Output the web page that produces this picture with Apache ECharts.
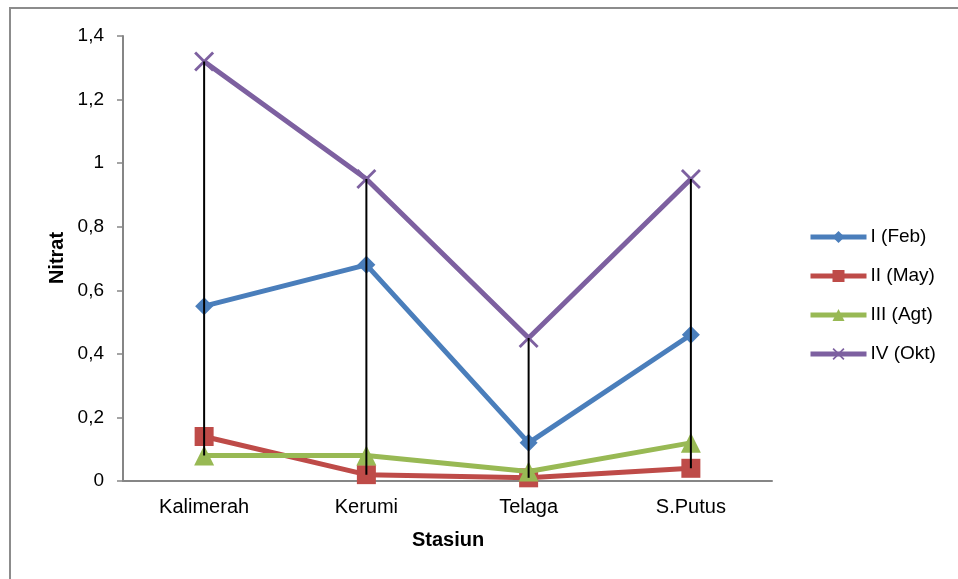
<!DOCTYPE html>
<html>
<head>
<meta charset="utf-8">
<script src="https://cdn.jsdelivr.net/npm/echarts@6/dist/echarts.min.js"></script>
<style>
  html, body { margin: 0; padding: 0; background: #fff; }
  #chart { width: 958px; height: 579px; }
</style>
</head>
<body>
<div id="chart"></div>
<script>
// Nitrate concentration per station, four sampling periods
const stations = ['Kalimerah', 'Kerumi', 'Telaga', 'S.Putus'];
const seriesNames = ['I (Feb)', 'II (May)', 'III (Agt)', 'IV (Okt)'];
const febValues = [0.55, 0.68, 0.12, 0.46];
const mayValues = [0.14, 0.02, 0.01, 0.04];
const agtValues = [0.08, 0.08, 0.03, 0.12];
const oktValues = [1.32, 0.95, 0.45, 0.95];
const yTicks = [0, 0.2, 0.4, 0.6, 0.8, 1, 1.2, 1.4];

const allSeries = [febValues, mayValues, agtValues, oktValues];
const colors = ['#4A7EBB', '#BE4B48', '#98B954', '#7D60A0'];
const symbols = [
  'diamond',
  'rect',
  'triangle',
  'path://M2,0L10,8L18,0L20,2L12,10L20,18L18,20L10,12L2,20L0,18L8,10L0,2Z'
];
const symbolSizes = [18, 19, 20, 20];

// high-low range per station
const rangeData = stations.map((_, i) => {
  const vals = allSeries.map(s => s[i]);
  return [i, Math.min.apply(null, vals), Math.max.apply(null, vals)];
});

const fmt = v => String(parseFloat(Number(v).toFixed(1))).replace('.', ',');
const FONT = '"Liberation Sans", Arial, sans-serif';

const chart = echarts.init(document.getElementById('chart'));

const lineSeries = seriesNames.map((name, k) => ({
  name: name,
  type: 'line',
  data: allSeries[k],
  symbol: symbols[k],
  symbolSize: symbolSizes[k],
  showAllSymbol: true,
  lineStyle: { color: colors[k], width: 5 },
  itemStyle: { color: colors[k], borderWidth: 0 },
  z: 2 + k,
  animation: false
}));

chart.setOption({
  animation: false,
  graphic: [
    {
      type: 'rect',
      shape: { x: 10, y: 8, width: 1000, height: 620 },
      style: { fill: 'none', stroke: '#8C8C8C', lineWidth: 2 },
      silent: true
    },
    {
      type: 'text',
      x: 57, y: 258,
      rotation: Math.PI / 2,
      style: {
        text: 'Nitrat',
        font: 'bold 20px ' + FONT,
        fill: '#000',
        textAlign: 'center',
        textVerticalAlign: 'middle'
      }
    },
    {
      type: 'text',
      x: 448, y: 540,
      style: {
        text: 'Stasiun',
        font: 'bold 20px ' + FONT,
        fill: '#000',
        textAlign: 'center',
        textVerticalAlign: 'middle'
      }
    }
  ],
  grid: { left: 123, right: 186, top: 36, bottom: 98, containLabel: false },
  legend: {
    orient: 'vertical',
    left: 808,
    top: 227,
    padding: 0,
    itemWidth: 56,
    itemHeight: 15,
    itemGap: 19,
    data: seriesNames,
    lineStyle: { width: 5 },
    textStyle: {
      fontFamily: FONT,
      fontSize: 19,
      color: '#000',
      padding: [0, 0, 0, -1],
      lineHeight: 20
    }
  },
  xAxis: {
    type: 'category',
    data: stations,
    boundaryGap: true,
    axisLine: { lineStyle: { color: '#868686', width: 2 } },
    axisTick: { show: false },
    axisLabel: {
      margin: 16,
      fontFamily: FONT,
      fontSize: 20,
      color: '#000'
    },
    splitLine: { show: false }
  },
  yAxis: {
    type: 'value',
    min: yTicks[0],
    max: yTicks[yTicks.length - 1],
    interval: 0.2,
    axisLine: { show: true, lineStyle: { color: '#868686', width: 2 } },
    axisTick: { show: true, inside: false, length: 6, lineStyle: { color: '#868686', width: 1.5 } },
    axisLabel: {
      margin: 19,
      formatter: fmt,
      fontFamily: FONT,
      fontSize: 19,
      color: '#000'
    },
    splitLine: { show: false }
  },
  series: lineSeries.concat([{
    name: 'range',
    type: 'custom',
    data: rangeData,
    z: 10,
    silent: true,
    renderItem: function (params, api) {
      const lo = api.coord([api.value(0), api.value(1)]);
      const hi = api.coord([api.value(0), api.value(2)]);
      return {
        type: 'line',
        shape: { x1: lo[0], y1: lo[1], x2: hi[0], y2: hi[1] },
        style: { stroke: '#000', lineWidth: 2 }
      };
    },
    encode: { x: 0, y: [1, 2] }
  }])
});
</script>
</body>
</html>
